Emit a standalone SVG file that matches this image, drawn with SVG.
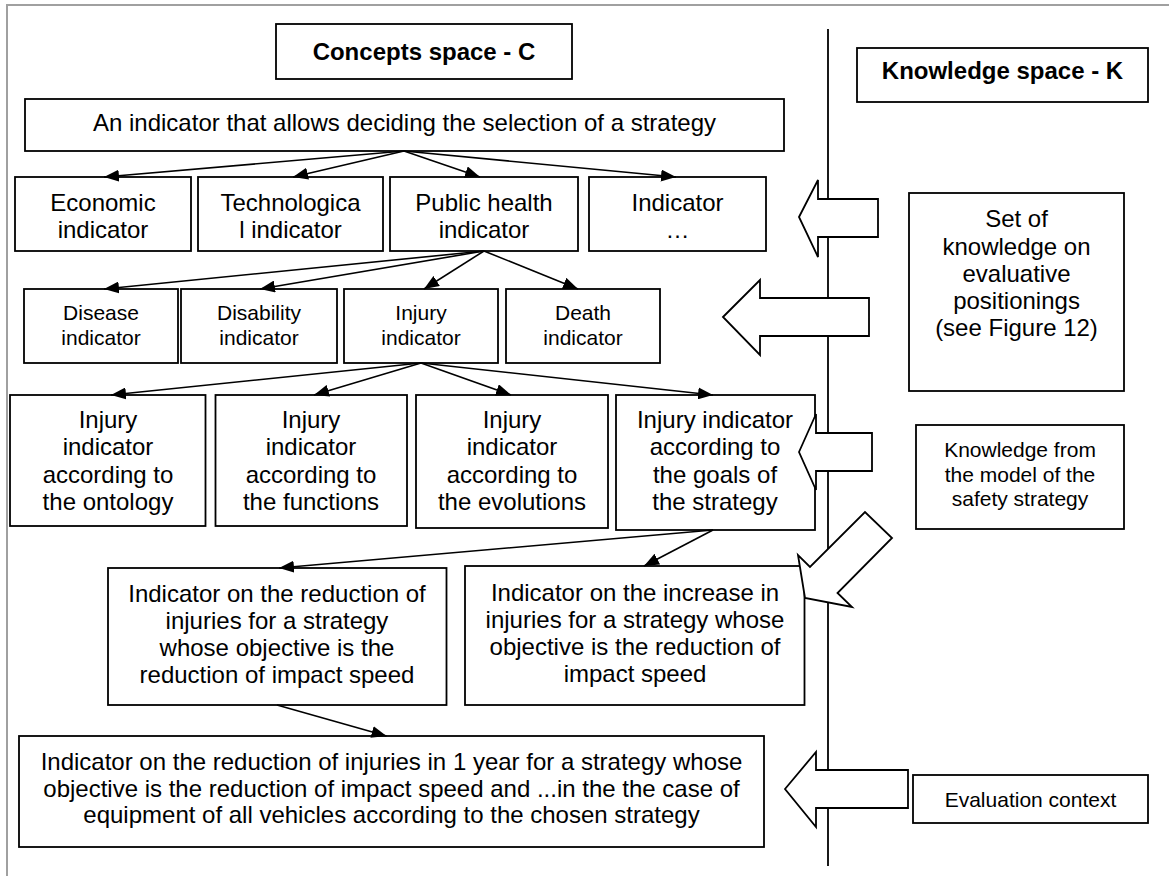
<svg xmlns="http://www.w3.org/2000/svg" width="1169" height="876" viewBox="0 0 1169 876">
  <style>
    .box { fill: #ffffff; stroke: #000000; stroke-width: 1.8; }
    .t { font-family: "Liberation Sans", Arial, sans-serif; font-size: 24px; fill: #000000; text-anchor: middle; }
    .s { font-size: 21px; }
    .b { font-weight: bold; }
    .link { fill: none; stroke: #000000; stroke-width: 1.6; marker-end: url(#tip); }
    .block { fill: #ffffff; stroke: #000000; stroke-width: 1.8; stroke-linejoin: miter; }
    .frame { fill: none; stroke: #a0a0a0; stroke-width: 2; }
  </style>
  <defs>
    <marker id="tip" markerUnits="userSpaceOnUse" markerWidth="16" markerHeight="12" refX="15" refY="6" orient="auto">
      <path d="M0,0 L15,6 L0,12 Z" fill="#000000"/>
    </marker>
  </defs>

  <rect width="1169" height="876" fill="#ffffff"/>

  <!-- page frame (left and top edges) -->
  <path class="frame" d="M7,876 V5 H1169"/>

  <!-- divider between the two spaces -->
  <line x1="828" y1="29" x2="828" y2="866" stroke="#000000" stroke-width="1.8"/>

  <!-- headings -->
  <g id="concepts-space">
    <rect class="box" x="276" y="24" width="296" height="55"/>
    <text class="t b" x="424" y="60">Concepts space - C</text>
  </g>
  <g id="knowledge-space">
    <rect class="box" x="857" y="48" width="291" height="54"/>
    <text class="t b" x="1002.5" y="79">Knowledge space - K</text>
  </g>

  <!-- concept tree -->
  <g id="root">
    <rect class="box" x="25" y="99" width="759" height="52"/>
    <text class="t" x="404.5" y="131">An indicator that allows deciding the selection of a strategy</text>
  </g>

  <g id="economic">
    <rect class="box" x="15" y="177" width="176" height="74"/>
    <text class="t" x="103" y="211">Economic</text>
    <text class="t" x="103" y="238">indicator</text>
  </g>
  <g id="technological">
    <rect class="box" x="198" y="177" width="185" height="74"/>
    <text class="t" x="290.5" y="211">Technologica</text>
    <text class="t" x="290.5" y="238">l indicator</text>
  </g>
  <g id="public-health">
    <rect class="box" x="390" y="177" width="188" height="74"/>
    <text class="t" x="484" y="211">Public health</text>
    <text class="t" x="484" y="238">indicator</text>
  </g>
  <g id="indicator-other">
    <rect class="box" x="589" y="177" width="177" height="74"/>
    <text class="t" x="677.5" y="211">Indicator</text>
    <text class="t" x="677.5" y="238">…</text>
  </g>

  <g id="disease">
    <rect class="box" x="24" y="289" width="154" height="74"/>
    <text class="t s" x="101" y="320">Disease</text>
    <text class="t s" x="101" y="345">indicator</text>
  </g>
  <g id="disability">
    <rect class="box" x="181" y="289" width="156" height="74"/>
    <text class="t s" x="259" y="320">Disability</text>
    <text class="t s" x="259" y="345">indicator</text>
  </g>
  <g id="injury">
    <rect class="box" x="344" y="289" width="154" height="74"/>
    <text class="t s" x="421" y="320">Injury</text>
    <text class="t s" x="421" y="345">indicator</text>
  </g>
  <g id="death">
    <rect class="box" x="506" y="289" width="154" height="74"/>
    <text class="t s" x="583" y="320">Death</text>
    <text class="t s" x="583" y="345">indicator</text>
  </g>

  <g id="injury-ontology">
    <rect class="box" x="10" y="395" width="195.5" height="131"/>
    <text class="t" x="108" y="428">Injury</text>
    <text class="t" x="108" y="455">indicator</text>
    <text class="t" x="108" y="483">according to</text>
    <text class="t" x="108" y="510">the ontology</text>
  </g>
  <g id="injury-functions">
    <rect class="box" x="215.5" y="395" width="191.5" height="131"/>
    <text class="t" x="311" y="428">Injury</text>
    <text class="t" x="311" y="455">indicator</text>
    <text class="t" x="311" y="483">according to</text>
    <text class="t" x="311" y="510">the functions</text>
  </g>
  <g id="injury-evolutions">
    <rect class="box" x="416" y="395" width="192" height="133"/>
    <text class="t" x="512" y="428">Injury</text>
    <text class="t" x="512" y="455">indicator</text>
    <text class="t" x="512" y="483">according to</text>
    <text class="t" x="512" y="510">the evolutions</text>
  </g>
  <g id="injury-goals">
    <rect class="box" x="616" y="395" width="199" height="135"/>
    <text class="t" x="715" y="428">Injury indicator</text>
    <text class="t" x="715" y="455">according to</text>
    <text class="t" x="715" y="483">the goals of</text>
    <text class="t" x="715" y="510">the strategy</text>
  </g>

  <g id="reduction">
    <rect class="box" x="108" y="568" width="338.5" height="137"/>
    <text class="t" x="277" y="602">Indicator on the reduction of</text>
    <text class="t" x="277" y="629">injuries for a strategy</text>
    <text class="t" x="277" y="656">whose objective is the</text>
    <text class="t" x="277" y="683">reduction of impact speed</text>
  </g>
  <g id="increase">
    <rect class="box" x="465" y="566" width="339.5" height="139"/>
    <text class="t" x="635" y="601">Indicator on the increase in</text>
    <text class="t" x="635" y="628">injuries for a strategy whose</text>
    <text class="t" x="635" y="655">objective is the reduction of</text>
    <text class="t" x="635" y="682">impact speed</text>
  </g>

  <g id="reduction-one-year">
    <rect class="box" x="19" y="736" width="745" height="111"/>
    <text class="t" x="391.5" y="770">Indicator on the reduction of injuries in 1 year for a strategy whose</text>
    <text class="t" x="391.5" y="797">objective is the reduction of impact speed and ...in the the case of</text>
    <text class="t" x="391.5" y="823">equipment of all vehicles according to the chosen strategy</text>
  </g>

  <!-- knowledge side -->
  <g id="evaluative-knowledge">
    <rect class="box" x="909" y="193" width="215" height="198"/>
    <text class="t" x="1016.5" y="227">Set of</text>
    <text class="t" x="1016.5" y="254.5">knowledge on</text>
    <text class="t" x="1016.5" y="282">evaluative</text>
    <text class="t" x="1016.5" y="309">positionings</text>
    <text class="t" x="1016.5" y="336">(see Figure 12)</text>
  </g>
  <g id="strategy-model">
    <rect class="box" x="916" y="425" width="208" height="104"/>
    <text class="t s" x="1020" y="457">Knowledge from</text>
    <text class="t s" x="1020" y="481.5">the model of the</text>
    <text class="t s" x="1020" y="506">safety strategy</text>
  </g>
  <g id="evaluation-context">
    <rect class="box" x="913" y="775" width="235" height="48"/>
    <text class="t s" x="1030.5" y="807">Evaluation context</text>
  </g>

  <!-- block arrows carrying knowledge into the concept space -->
  <g id="transfers">
    <polygon class="block" points="799,217 818,180 818,199 878,199 878,237 818,237 818,257"/>
    <polygon class="block" points="723,317 760,280 760,298 869,298 869,336 760,336 760,355"/>
    <polygon class="block" points="799,452 816,414 816,433 872,433 872,471 816,471 816,490"/>
    <polygon class="block" points="805,598 798,555 810,567 865,512 892,538 837.5,593 852,607"/>
    <polygon class="block" points="785,789 816,752 816,770 908,770 908,808 816,808 816,827"/>
  </g>

  <!-- refinement links -->
  <g id="connectors">
    <line class="link" x1="404" y1="151" x2="104" y2="177"/>
    <line class="link" x1="404" y1="151" x2="293" y2="177"/>
    <line class="link" x1="404" y1="151" x2="480" y2="177"/>
    <line class="link" x1="404" y1="151" x2="676" y2="177"/>

    <line class="link" x1="484" y1="251" x2="104" y2="289"/>
    <line class="link" x1="484" y1="251" x2="260" y2="289"/>
    <line class="link" x1="484" y1="251" x2="424" y2="289"/>
    <line class="link" x1="484" y1="251" x2="578" y2="289"/>

    <line class="link" x1="421" y1="363" x2="111" y2="395"/>
    <line class="link" x1="421" y1="363" x2="314" y2="395"/>
    <line class="link" x1="421" y1="363" x2="511" y2="395"/>
    <line class="link" x1="421" y1="363" x2="713" y2="395"/>

    <line class="link" x1="713" y1="530" x2="279" y2="568"/>
    <line class="link" x1="713" y1="530" x2="644" y2="566"/>

    <line class="link" x1="277" y1="705" x2="386.5" y2="736"/>
  </g>
</svg>
